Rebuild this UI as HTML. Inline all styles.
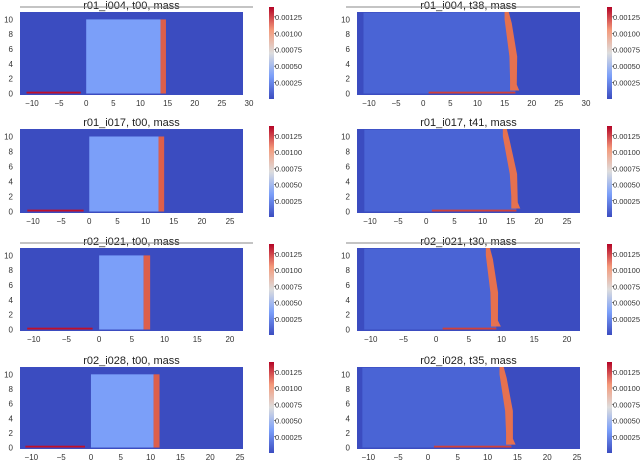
<!DOCTYPE html>
<html><head><meta charset="utf-8"><style>
body{margin:0;background:#fff;width:640px;height:460px;overflow:hidden}
svg text{font-family:"Liberation Sans","DejaVu Sans",sans-serif}
</style></head><body>
<svg id="fig" width="640" height="460" viewBox="0 0 640 460" xmlns="http://www.w3.org/2000/svg">
<defs><linearGradient id="cw" x1="0" y1="1" x2="0" y2="0">
<stop offset="0" stop-color="#3b4cc0"/><stop offset="0.25" stop-color="#7b9ff9"/><stop offset="0.5" stop-color="#dddddd"/><stop offset="0.75" stop-color="#f49a7b"/><stop offset="1" stop-color="#b40426"/></linearGradient></defs>
</svg>
<script>
const leftTitles=["r01_i004, t00, mass","r01_i017, t00, mass","r02_i021, t00, mass","r02_i028, t00, mass"];
const rightTitles=["r01_i004, t38, mass","r01_i017, t41, mass","r02_i021, t30, mass","r02_i028, t35, mass"];
const xMin=[-12.2,-12.3,-12.1,-11.9];
const xMax=[28.9,27.3,22.0,25.5];
const xTicks=[[-10,-5,0,5,10,15,20,25,30],[-10,-5,0,5,10,15,20,25],[-10,-5,0,5,10,15,20],[-10,-5,0,5,10,15,20,25]];
const blockEnd=[13.7,12.3,6.8,10.5];
const redWidth=[1.0,1.0,1.0,1.0];
const frontTop=[15.0,13.6,7.6,12.0];
const frontBottom=[17.0,16.0,9.2,14.0];
const frontWidth=[1.1,1.0,0.9,1.0];
const yTicks=[0,2,4,6,8,10];
const cbTicks=[0.00025,0.0005,0.00075,0.001,0.00125];
const cbLabels=["0.00025","0.00050","0.00075","0.00100","0.00125"];
const cbMax=0.0014;
const rowTop=[12,129,248,367],rowBot=[95,213,331,449],cbTop=[7,126,244,362],cbBot=[99,217,335,453];
const svg=document.getElementById('fig');const NS="http://www.w3.org/2000/svg";
function el(t,a,p){const e=document.createElementNS(NS,t);for(const k in a)e.setAttribute(k,a[k]);(p||svg).appendChild(e);return e;}
function txt(s,a,p){const e=el('text',a,p);e.textContent=s;return e;}
for(let r=0;r<4;r++){
 for(let c=0;c<2;c++){
  const x0=c?357:20,x1=c?580:243,y0=rowTop[r],y1=rowBot[r];
  const sx=v=>x0+(v-xMin[r])/(xMax[r]-xMin[r])*(x1-x0);
  const sy=v=>y1-(v+0.2)/11.2*(y1-y0);
  const g=el('g',{});
  
  
  el('rect',{x:x0,y:y0,width:x1-x0,height:y1-y0,fill:'#3b4cc0'},g);
  if(!c){
   const b=el('rect',{x:sx(0),y:sy(10),width:sx(blockEnd[r])-sx(0),height:sy(0)-sy(10),fill:'#7b9ff9'},g);
   
   const rd=el('rect',{x:sx(blockEnd[r]),y:sy(10),width:sx(blockEnd[r]+redWidth[r])-sx(blockEnd[r]),height:sy(0)-sy(10),fill:'#dd5f4b'},g);
   
   el('rect',{x:sx(-11),y:sy(0.25),width:sx(-1)-sx(-11),height:sy(0)-sy(0.25),fill:'#c0102a'},g);
  }else{
   const ft=frontTop[r],fb=frontBottom[r],w=frontWidth[r];
   const mid=ft+0.72*(fb-ft);
   const sh=el('path',{d:`M${sx(-11)},${sy(10.9)} L${sx(ft)},${sy(11)} Q${sx(fb+0.2)},${sy(7)} ${sx(fb)},${sy(0.4)} L${sx(fb)},${sy(0)} L${sx(-11)},${sy(0)} Z`,fill:'#4a64d5'},g);
   
   const f=el('polygon',{points:`${sx(ft)},${sy(11)} ${sx(ft+w*0.7)},${sy(11)} ${sx(ft+w*1.2)},${sy(9.5)} ${sx(mid+w*0.8)},${sy(5)} ${sx(fb+0.25)},${sy(1.2)} ${sx(fb+0.7)},${sy(0.4)} ${sx(fb-w*0.9)},${sy(0.4)} ${sx(fb-w*0.9)},${sy(2)} ${sx(mid-w*0.5)},${sy(5)} ${sx(ft)},${sy(10)}`,fill:'#e6714f'},g);
   
   el('rect',{x:sx(1),y:sy(0.25),width:sx(fb)-sx(1),height:sy(0)-sy(0.25),fill:'#d0413a'},g);
  }
  const t=txt(c?rightTitles[r]:leftTitles[r],{x:(x0+x1)/2,y:y0-3,'font-size':11,'text-anchor':'middle',fill:'#222'});
  
  for(const v of yTicks){const l=txt(v,{x:x0-7,y:sy(v)+3,'font-size':8,'text-anchor':'end',fill:'#333'});}
  for(const v of xTicks[r]){const l=txt(v<0?'\u2212'+(-v):v,{x:sx(v),y:y1+11,'font-size':8,'text-anchor':'middle',fill:'#333'});}
  const cx=c?607:269,cy0=cbTop[r],cy1=cbBot[r];
  const cb=el('rect',{x:cx,y:cy0,width:5,height:cy1-cy0,fill:'url(#cw)'});
  
  cbTicks.forEach((v,i)=>{const y=cy1-v/cbMax*(cy1-cy0);el('line',{x1:cx+5,x2:cx+7,y1:y,y2:y,stroke:'#333','stroke-width':0.6});
   const l=txt(cbLabels[i],{x:cx+6,y:y+3,'font-size':7,fill:'#333',textLength:27,lengthAdjust:'spacingAndGlyphs'});});
 }
}
[[20,253,7],[346,580,7],[20,253,243],[346,580,243]].forEach(a=>{el('line',{x1:a[0],x2:a[1],y1:a[2],y2:a[2],stroke:'#888','stroke-width':1});});
</script>
</body></html>
